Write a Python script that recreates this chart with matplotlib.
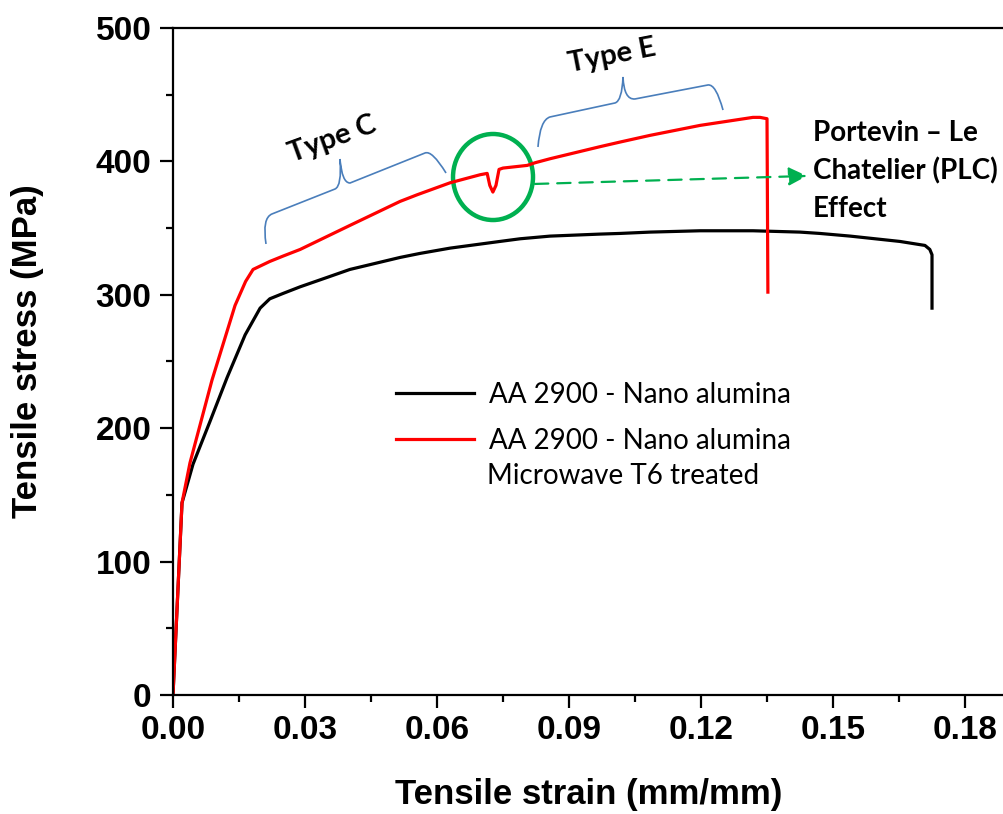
import numpy as np
import matplotlib
matplotlib.use("Agg")
import matplotlib.pyplot as plt
from matplotlib.path import Path
from matplotlib.patches import PathPatch, Ellipse
from matplotlib.font_manager import FontProperties

# --- data ---
strain_plain = [0.0, 0.00205, 0.00455, 0.0084, 0.0123, 0.0164, 0.0198, 0.0220,
                0.0250, 0.0289, 0.0350, 0.0402, 0.0516, 0.0561, 0.0630, 0.0743,
                0.0789, 0.0857, 0.0970, 0.1016, 0.1084, 0.1198, 0.1318, 0.1425,
                0.1470, 0.1539, 0.1652, 0.1709, 0.1720, 0.1725, 0.1725]
stress_plain = [0, 144, 173, 205, 238, 270, 290, 297,
                301, 306, 313, 319, 328, 331, 335, 340,
                342, 344, 345.5, 346, 347, 348, 348, 347,
                346, 344, 340, 337, 334, 330, 290]

strain_t6 = [0.0, 0.00205, 0.00386, 0.00886, 0.0141, 0.0165, 0.0182, 0.0220,
             0.0250, 0.0289, 0.0402, 0.0516, 0.0555, 0.0630, 0.0698, 0.0714,
             0.0720, 0.0727, 0.0734, 0.0741, 0.0750, 0.0805, 0.0823, 0.0857,
             0.0970, 0.1016, 0.1084, 0.1198, 0.1318, 0.1334, 0.1350, 0.1352]
stress_t6 = [0, 144, 174, 236, 292, 310, 319, 325,
             329, 334, 352, 370, 375, 384, 390, 391,
             382, 377, 382, 394, 395, 397, 399, 402,
             411, 414.5, 419.5, 427, 433, 433, 432, 302]

labels = ["AA 2900 - Nano alumina", "AA 2900 - Nano alumina"]
label_extra = "Microwave T6 treated"
plc_text = "Portevin \u2013 Le\nChatelier (PLC)\nEffect"

x_ticks = [0.00, 0.03, 0.06, 0.09, 0.12, 0.15, 0.18]
y_ticks = [0, 100, 200, 300, 400, 500]

# brace outlines (annotation guides)
brace_c = [(0.02114, 338.1), (0.02023, 357.6), (0.0225, 360.6), (0.03682, 379.3),
           (0.03841, 381.6), (0.03795, 401.8), (0.03841, 383.8), (0.04023, 383.8),
           (0.05727, 406.3), (0.05886, 408.5), (0.06205, 391.3)]
brace_e = [(0.08295, 410.8), (0.08341, 431.0), (0.08568, 433.3), (0.10045, 443.8),
           (0.10205, 445.3), (0.10227, 463.3), (0.1025, 446.0), (0.1050, 446.8),
           (0.1216, 457.3), (0.1234, 458.0), (0.1250, 438.5)]
brace_codes = [Path.MOVETO, Path.CURVE3, Path.CURVE3, Path.LINETO,
               Path.CURVE3, Path.CURVE3, Path.CURVE3, Path.CURVE3,
               Path.LINETO, Path.CURVE3, Path.CURVE3]

fig = plt.figure(figsize=(10.04, 8.14), dpi=100)
ax = fig.add_axes([0.1723, 0.1462, 0.8277, 0.8194])

line_plain, = ax.plot(strain_plain, stress_plain, color="black", lw=2.3)
line_t6, = ax.plot(strain_t6, stress_t6, color="#ff0000", lw=2.3)

ax.set_xlim(0, 0.18886)
ax.set_ylim(0, 500)
ax.set_xticks(x_ticks)
ax.set_yticks(y_ticks)
ax.set_xticks(np.arange(0.015, 0.19, 0.03), minor=True)
ax.set_yticks([50, 150, 250, 350, 450], minor=True)
ax.set_xticklabels([f"{v:.2f}" for v in x_ticks])

tick_font = FontProperties(family="Liberation Sans", weight="bold", size=24)
for lab in ax.get_xticklabels() + ax.get_yticklabels():
    lab.set_fontproperties(tick_font)
ax.tick_params(which="major", direction="out", length=9.5, width=1.6, pad=5)
ax.tick_params(which="minor", direction="out", length=5, width=1.6)
ax.tick_params(axis="y", pad=6)

for s in ["left", "bottom", "top"]:
    ax.spines[s].set_linewidth(1.6)
ax.spines["right"].set_visible(False)

ax.set_xlabel("Tensile strain (mm/mm)", family="Liberation Sans", weight="bold", size=25)
ax.set_ylabel("Tensile stress (MPa)", family="Liberation Sans", weight="bold", size=25)
ax.xaxis.set_label_coords(0.5, -0.125)
ax.yaxis.set_label_coords(-0.155, 0.515)

leg = ax.legend([line_plain, line_t6], labels, loc="upper left",
                bbox_to_anchor=(0.238, 0.507), frameon=False,
                prop=dict(family="Lato", size=20), handlelength=2.8,
                handletextpad=0.55, labelspacing=0.72)
ax.text(0.378, 0.328, label_extra, transform=ax.transAxes, family="Lato",
        size=20, ha="left", va="center")

blue = "#4a7ebb"
for pts in (brace_c, brace_e):
    ax.add_patch(PathPatch(Path(pts, brace_codes), fill=False, edgecolor=blue, lw=1.2))

ax.text(0.03614, 417, "Type C", rotation=20, family="Lato", weight="bold", size=21,
        ha="center", va="center", rotation_mode="anchor")
ax.text(0.09977, 479, "Type E", rotation=11, family="Lato", weight="bold", size=21,
        ha="center", va="center", rotation_mode="anchor")

green = "#00b050"
ax.add_patch(Ellipse((0.07273, 388.3), 0.01818, 64.5, fill=False, edgecolor=green, lw=3.2))
ax.annotate("", xy=(0.1441, 389.1), xytext=(0.08227, 383.1),
            arrowprops=dict(arrowstyle="-|>", color=green, lw=1.6, ls=(0, (6, 4)),
                            mutation_scale=28, shrinkA=0, shrinkB=0))
ax.text(0.14545, 392.8, plc_text, family="Lato", weight="bold", size=20,
        ha="left", va="center", linespacing=1.55)

fig.savefig("out.png", dpi=100)
